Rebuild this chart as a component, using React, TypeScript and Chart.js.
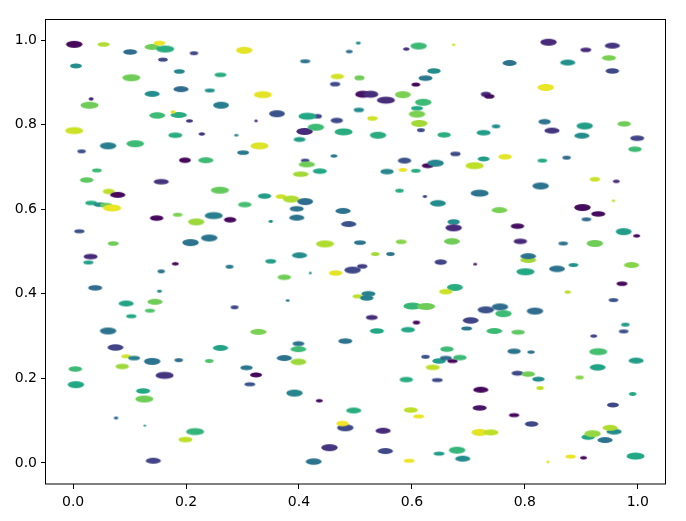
import React, { useEffect, useRef } from "react";
import { Chart, registerables } from "chart.js";

Chart.register(...registerables);

// Ellipse centres (data units)
const xValues: number[] = [
  0.002, 0.054, 0.101, 0.140, 0.153, 0.163, 0.214, 0.005, 0.159, 0.188, 0.103, 0.191, 0.140, 0.032, 0.029, 0.149, 0.187, 0.177, 0.206, 0.002, 0.181, 0.228, 0.062, 0.110, 0.015, 0.198, 0.235, 0.042,
  0.024, 0.156, 0.063, 0.079, 0.032, 0.047, 0.058, 0.069, 0.148, 0.185, 0.218, 0.011, 0.208, 0.071, 0.031, 0.027, 0.181, 0.156, 0.039, 0.153, 0.094, 0.145, 0.136, 0.103, 0.062,
  0.075, 0.094, 0.108, 0.140, 0.187, 0.241, 0.004, 0.087, 0.162, 0.005, 0.124, 0.126, 0.076, 0.127, 0.216, 0.199, 0.142,
  0.303, 0.505, 0.489, 0.411, 0.261, 0.468, 0.507, 0.464, 0.242, 0.336, 0.262, 0.506, 0.361, 0.433, 0.415, 0.467, 0.324, 0.410, 0.430, 0.479, 0.289, 0.401, 0.330, 0.301, 0.462, 0.411, 0.414, 0.437, 0.403,
  0.260, 0.339, 0.368, 0.386, 0.411, 0.304, 0.396, 0.478, 0.249, 0.278, 0.350, 0.396, 0.488, 0.241, 0.446, 0.508, 0.401, 0.350, 0.277, 0.420, 0.465, 0.495, 0.374, 0.380, 0.286,
  0.328, 0.261, 0.399, 0.399, 0.482, 0.374, 0.399, 0.307, 0.324, 0.313, 0.392, 0.436, 0.497, 0.482, 0.477, 0.454, 0.426,
  0.612, 0.590, 0.674, 0.773, 0.639, 0.624, 0.607, 0.513, 0.527, 0.554, 0.584, 0.620, 0.609, 0.609, 0.613, 0.616, 0.731, 0.737, 0.530, 0.540, 0.657, 0.749, 0.727, 0.677, 0.587, 0.711, 0.727, 0.765, 0.628, 0.642, 0.556, 0.584, 0.607,
  0.578, 0.623, 0.720, 0.646, 0.755, 0.674, 0.674, 0.787, 0.671, 0.581, 0.535, 0.562, 0.651, 0.712, 0.512, 0.792, 0.676, 0.660, 0.504, 0.523, 0.520, 0.601, 0.625, 0.731, 0.756, 0.762, 0.529, 0.608, 0.704, 0.538, 0.593, 0.697, 0.746,
  0.781, 0.662, 0.624, 0.648, 0.660, 0.672, 0.685, 0.637, 0.590, 0.645, 0.787, 0.806, 0.824, 0.722, 0.598, 0.612, 0.720, 0.781, 0.549, 0.720, 0.740, 0.553, 0.648, 0.680, 0.690, 0.595,
  0.842, 0.908, 0.955, 0.949, 0.876, 0.955, 0.837, 0.835, 0.848, 0.906, 0.901, 0.976, 0.999, 0.995, 0.831, 0.874,
  0.924, 0.962, 0.828, 0.957, 0.902, 0.930, 0.909, 0.975, 0.998, 0.868, 0.924, 0.806, 0.806, 0.801, 0.857, 0.886, 0.989, 0.972, 0.876, 0.957, 0.818, 0.978, 0.975, 0.788,
  0.922, 0.811, 0.930, 0.997, 0.929, 0.827, 0.897, 0.991, 0.956, 0.812, 0.958, 0.951, 0.912, 0.920, 0.942, 0.996, 0.881, 0.904, 0.841,
];

const yValues: number[] = [
  0.990, 0.990, 0.972, 0.984, 0.993, 0.979, 0.969, 0.939, 0.954, 0.926, 0.911, 0.884, 0.873, 0.861, 0.846, 0.822, 0.823, 0.830, 0.809, 0.786, 0.775, 0.778, 0.750, 0.755, 0.737, 0.716, 0.716, 0.692,
  0.669, 0.665, 0.642, 0.634, 0.615, 0.611, 0.610, 0.603, 0.579, 0.587, 0.570, 0.548, 0.521, 0.519, 0.488, 0.474, 0.471, 0.453, 0.414, 0.406, 0.377, 0.381, 0.360, 0.347, 0.312,
  0.273, 0.252, 0.248, 0.240, 0.243, 0.241, 0.222, 0.228, 0.207, 0.185, 0.170, 0.151, 0.106, 0.088, 0.074, 0.055, 0.005,
  0.976, 0.993, 0.973, 0.950, 0.918, 0.914, 0.911, 0.896, 0.881, 0.871, 0.846, 0.835, 0.826, 0.820, 0.820, 0.810, 0.809, 0.784, 0.794, 0.783, 0.775, 0.765, 0.750, 0.734, 0.726, 0.715, 0.706, 0.690, 0.683,
  0.645, 0.631, 0.630, 0.624, 0.618, 0.611, 0.601, 0.596, 0.585, 0.575, 0.571, 0.580, 0.565, 0.532, 0.518, 0.521, 0.491, 0.477, 0.464, 0.449, 0.449, 0.456, 0.439, 0.384, 0.368,
  0.310, 0.272, 0.282, 0.269, 0.288, 0.248, 0.239, 0.225, 0.208, 0.186, 0.165, 0.147, 0.124, 0.083, 0.093, 0.036, 0.003,
  0.986, 0.979, 0.989, 0.946, 0.927, 0.910, 0.895, 0.872, 0.872, 0.858, 0.871, 0.853, 0.839, 0.825, 0.803, 0.787, 0.872, 0.867, 0.815, 0.775, 0.776, 0.796, 0.781, 0.731, 0.715, 0.703, 0.719, 0.724, 0.703, 0.709, 0.689, 0.693, 0.691,
  0.644, 0.630, 0.638, 0.614, 0.598, 0.570, 0.556, 0.560, 0.524, 0.523, 0.494, 0.494, 0.475, 0.470, 0.465, 0.524, 0.415, 0.405, 0.394, 0.400, 0.390, 0.371, 0.370, 0.362, 0.369, 0.353, 0.344, 0.332, 0.337, 0.312, 0.315, 0.318, 0.312,
  0.264, 0.269, 0.251, 0.241, 0.248, 0.241, 0.249, 0.226, 0.197, 0.196, 0.212, 0.210, 0.198, 0.173, 0.125, 0.110, 0.130, 0.113, 0.076, 0.072, 0.072, 0.028, 0.022, 0.030, 0.010, 0.005,
  0.995, 0.977, 0.987, 0.958, 0.947, 0.927, 0.888, 0.807, 0.786, 0.797, 0.774, 0.802, 0.768, 0.742, 0.715, 0.722,
  0.671, 0.666, 0.655, 0.620, 0.604, 0.589, 0.576, 0.547, 0.537, 0.519, 0.519, 0.480, 0.489, 0.452, 0.459, 0.468, 0.468, 0.424, 0.404, 0.385, 0.359, 0.327, 0.311, 0.309,
  0.300, 0.262, 0.263, 0.242, 0.226, 0.177, 0.202, 0.163, 0.137, 0.092, 0.074, 0.083, 0.061, 0.069, 0.054, 0.016, 0.015, 0.012, 0.002,
];

// Ellipse widths (x data units)
const widths: number[] = [
  0.029, 0.021, 0.025, 0.027, 0.021, 0.032, 0.015, 0.021, 0.017, 0.019, 0.032, 0.027, 0.027, 0.009, 0.032, 0.028, 0.029, 0.009, 0.012, 0.032, 0.025, 0.011, 0.029, 0.031, 0.015, 0.021, 0.027, 0.017,
  0.024, 0.027, 0.021, 0.027, 0.021, 0.021, 0.021, 0.032, 0.024, 0.017, 0.029, 0.018, 0.029, 0.019, 0.025, 0.018, 0.012, 0.013, 0.025, 0.009, 0.027, 0.027, 0.018, 0.018, 0.029,
  0.028, 0.017, 0.021, 0.029, 0.015, 0.015, 0.024, 0.024, 0.032, 0.029, 0.025, 0.032, 0.008, 0.005, 0.032, 0.025, 0.027,
  0.029, 0.009, 0.012, 0.018, 0.021, 0.024, 0.018, 0.018, 0.018, 0.032, 0.028, 0.018, 0.028, 0.015, 0.032, 0.022, 0.006, 0.029, 0.029, 0.032, 0.008, 0.021, 0.032, 0.021, 0.012, 0.015, 0.029, 0.025, 0.028,
  0.032, 0.024, 0.018, 0.029, 0.028, 0.024, 0.025, 0.027, 0.032, 0.022, 0.008, 0.027, 0.027, 0.029, 0.032, 0.021, 0.027, 0.019, 0.014, 0.005, 0.024, 0.029, 0.024, 0.007, 0.014,
  0.029, 0.027, 0.021, 0.028, 0.025, 0.027, 0.028, 0.022, 0.021, 0.019, 0.029, 0.012, 0.027, 0.029, 0.022, 0.029, 0.028,
  0.029, 0.011, 0.006, 0.025, 0.024, 0.025, 0.015, 0.027, 0.027, 0.032, 0.028, 0.029, 0.021, 0.029, 0.029, 0.014, 0.018, 0.018, 0.018, 0.029, 0.024, 0.015, 0.025, 0.018, 0.024, 0.032, 0.021, 0.024, 0.021, 0.029, 0.024, 0.015, 0.017,
  0.015, 0.008, 0.032, 0.028, 0.028, 0.022, 0.029, 0.024, 0.028, 0.019, 0.015, 0.015, 0.022, 0.007, 0.018, 0.024, 0.028, 0.024, 0.018, 0.025, 0.024, 0.032, 0.032, 0.029, 0.029, 0.029, 0.021, 0.013, 0.028, 0.025, 0.025, 0.019, 0.028,
  0.024, 0.024, 0.015, 0.024, 0.021, 0.018, 0.024, 0.025, 0.024, 0.019, 0.021, 0.024, 0.022, 0.027, 0.025, 0.019, 0.025, 0.018, 0.027, 0.029, 0.027, 0.027, 0.019, 0.029, 0.027, 0.019,
  0.029, 0.019, 0.027, 0.025, 0.027, 0.024, 0.029, 0.022, 0.027, 0.029, 0.027, 0.024, 0.025, 0.024, 0.017, 0.015,
  0.018, 0.012, 0.029, 0.006, 0.029, 0.025, 0.017, 0.028, 0.012, 0.017, 0.029, 0.028, 0.028, 0.032, 0.028, 0.017, 0.027, 0.019, 0.011, 0.017, 0.029, 0.015, 0.017, 0.024,
  0.012, 0.013, 0.032, 0.027, 0.028, 0.013, 0.015, 0.013, 0.021, 0.024, 0.027, 0.027, 0.024, 0.029, 0.027, 0.032, 0.018, 0.012, 0.006,
];

// Ellipse heights (y data units)
const heights: number[] = [
  0.016, 0.011, 0.013, 0.014, 0.012, 0.016, 0.009, 0.012, 0.010, 0.011, 0.016, 0.014, 0.014, 0.008, 0.016, 0.015, 0.014, 0.008, 0.008, 0.017, 0.013, 0.008, 0.016, 0.016, 0.009, 0.013, 0.014, 0.010,
  0.013, 0.013, 0.013, 0.014, 0.011, 0.011, 0.011, 0.017, 0.013, 0.009, 0.016, 0.010, 0.016, 0.011, 0.013, 0.009, 0.008, 0.009, 0.013, 0.007, 0.014, 0.014, 0.009, 0.010, 0.016,
  0.015, 0.009, 0.011, 0.016, 0.009, 0.009, 0.013, 0.013, 0.017, 0.016, 0.013, 0.016, 0.007, 0.005, 0.017, 0.013, 0.014,
  0.016, 0.007, 0.008, 0.009, 0.011, 0.013, 0.012, 0.011, 0.009, 0.017, 0.016, 0.011, 0.016, 0.011, 0.017, 0.013, 0.006, 0.016, 0.016, 0.017, 0.006, 0.012, 0.017, 0.011, 0.008, 0.009, 0.014, 0.013, 0.013,
  0.016, 0.013, 0.011, 0.016, 0.016, 0.013, 0.013, 0.014, 0.017, 0.013, 0.007, 0.014, 0.014, 0.016, 0.016, 0.011, 0.014, 0.011, 0.009, 0.006, 0.013, 0.016, 0.013, 0.006, 0.009,
  0.014, 0.014, 0.012, 0.014, 0.013, 0.014, 0.015, 0.012, 0.012, 0.010, 0.016, 0.008, 0.014, 0.016, 0.013, 0.016, 0.015,
  0.016, 0.008, 0.006, 0.014, 0.013, 0.013, 0.010, 0.017, 0.017, 0.017, 0.016, 0.016, 0.011, 0.016, 0.016, 0.009, 0.012, 0.011, 0.011, 0.016, 0.013, 0.009, 0.013, 0.011, 0.014, 0.017, 0.012, 0.013, 0.012, 0.016, 0.013, 0.009, 0.009,
  0.009, 0.007, 0.017, 0.015, 0.014, 0.013, 0.016, 0.013, 0.015, 0.011, 0.009, 0.009, 0.013, 0.006, 0.011, 0.013, 0.016, 0.013, 0.010, 0.013, 0.013, 0.017, 0.016, 0.016, 0.016, 0.016, 0.012, 0.009, 0.015, 0.013, 0.013, 0.010, 0.014,
  0.013, 0.013, 0.009, 0.013, 0.011, 0.010, 0.013, 0.013, 0.013, 0.010, 0.012, 0.013, 0.012, 0.014, 0.013, 0.010, 0.013, 0.010, 0.014, 0.016, 0.014, 0.014, 0.010, 0.016, 0.014, 0.010,
  0.016, 0.011, 0.014, 0.013, 0.014, 0.013, 0.016, 0.013, 0.014, 0.016, 0.014, 0.013, 0.013, 0.013, 0.009, 0.009,
  0.011, 0.008, 0.016, 0.006, 0.016, 0.013, 0.009, 0.016, 0.008, 0.009, 0.016, 0.014, 0.014, 0.016, 0.015, 0.009, 0.014, 0.011, 0.008, 0.009, 0.016, 0.009, 0.009, 0.012,
  0.008, 0.008, 0.017, 0.014, 0.015, 0.009, 0.009, 0.009, 0.012, 0.013, 0.014, 0.014, 0.013, 0.016, 0.014, 0.017, 0.010, 0.008, 0.006,
];

// Colour values (0..1, mapped through viridis)
const colorValues: number[] = [
  0.02, 0.88, 0.35, 0.78, 0.97, 0.62, 0.22, 0.48, 0.22, 0.45, 0.78, 0.35, 0.48, 0.12, 0.78, 0.68, 0.62, 0.95, 0.15, 0.92, 0.62, 0.15, 0.42, 0.68, 0.25, 0.02, 0.68, 0.68,
  0.75, 0.15, 0.9, 0.02, 0.62, 0.48, 0.78, 0.97, 0.02, 0.8, 0.85, 0.25, 0.38, 0.78, 0.12, 0.55, 0.02, 0.38, 0.35, 0.45, 0.58, 0.78, 0.72, 0.6, 0.38,
  0.2, 0.93, 0.42, 0.38, 0.35, 0.72, 0.68, 0.85, 0.15, 0.6, 0.6, 0.78, 0.35, 0.5, 0.65, 0.9, 0.2,
  0.96, 0.48, 0.35, 0.38, 0.62, 0.93, 0.78, 0.22, 0.5, 0.96, 0.42, 0.48, 0.26, 0.22, 0.6, 0.22, 0.1, 0.12, 0.68, 0.62, 0.45, 0.55, 0.95, 0.4, 0.4, 0.22, 0.78, 0.6, 0.86,
  0.76, 0.55, 0.93, 0.88, 0.35, 0.7, 0.38, 0.38, 0.43, 0.02, 0.5, 0.38, 0.25, 0.38, 0.88, 0.38, 0.48, 0.55, 0.4, 0.5, 0.96, 0.22, 0.78, 0.4, 0.22,
  0.8, 0.58, 0.38, 0.68, 0.38, 0.38, 0.85, 0.4, 0.02, 0.25, 0.45, 0.02, 0.62, 0.22, 0.98, 0.15, 0.38,
  0.68, 0.15, 0.93, 0.38, 0.48, 0.4, 0.02, 0.05, 0.13, 0.13, 0.8, 0.68, 0.6, 0.8, 0.86, 0.22, 0.12, 0.03, 0.93, 0.62, 0.63, 0.48, 0.55, 0.22, 0.25, 0.9, 0.55, 0.96, 0.02, 0.45, 0.45, 0.97, 0.62,
  0.62, 0.22, 0.38, 0.48, 0.8, 0.48, 0.12, 0.04, 0.78, 0.82, 0.86, 0.38, 0.2, 0.05, 0.18, 0.12, 0.62, 0.92, 0.9, 0.43, 0.43, 0.66, 0.78, 0.25, 0.35, 0.68, 0.13, 0.02, 0.2, 0.6, 0.6, 0.38, 0.68,
  0.38, 0.68, 0.25, 0.55, 0.35, 0.02, 0.68, 0.9, 0.62, 0.22, 0.22, 0.78, 0.48, 0.02, 0.9, 0.97, 0.06, 0.02, 0.12, 0.96, 0.9, 0.22, 0.55, 0.66, 0.48, 0.97,
  0.12, 0.12, 0.15, 0.8, 0.5, 0.22, 0.97, 0.38, 0.15, 0.55, 0.48, 0.78, 0.2, 0.68, 0.6, 0.35,
  0.92, 0.12, 0.38, 0.9, 0.03, 0.03, 0.35, 0.55, 0.02, 0.38, 0.78, 0.86, 0.38, 0.6, 0.38, 0.5, 0.82, 0.02, 0.9, 0.25, 0.35, 0.55, 0.25, 0.75,
  0.2, 0.38, 0.7, 0.55, 0.58, 0.9, 0.82, 0.6, 0.22, 0.22, 0.48, 0.88, 0.58, 0.84, 0.38, 0.6, 0.97, 0.02, 0.95,
];

const tickValues: number[] = [0, 0.2, 0.4, 0.6, 0.8, 1.0];
const xLimits: number[] = [-0.048, 1.05];
const yLimits: number[] = [-0.05, 1.05];

const VIRIDIS: string[] = [
  "#440154", "#482475", "#414487", "#355f8d", "#2a788e", "#21918c",
  "#22a884", "#44bf70", "#7ad151", "#bddf26", "#fde725",
];

function hexToRgb(h: string): number[] {
  return [parseInt(h.slice(1, 3), 16), parseInt(h.slice(3, 5), 16), parseInt(h.slice(5, 7), 16)];
}

function viridis(t: number): string {
  const v = Math.max(0, Math.min(1, t)) * (VIRIDIS.length - 1);
  const i = Math.min(Math.floor(v), VIRIDIS.length - 2);
  const f = v - i;
  const a = hexToRgb(VIRIDIS[i]);
  const b = hexToRgb(VIRIDIS[i + 1]);
  const c = a.map((av, k) => Math.round(av + (b[k] - av) * f));
  return `rgb(${c[0]},${c[1]},${c[2]})`;
}

const framePlugin = {
  id: "frame",
  afterDraw(chart: any) {
    const { ctx, chartArea } = chart;
    const { left, top, right, bottom } = chartArea;
    ctx.save();
    ctx.strokeStyle = "#000";
    ctx.lineWidth = 1;
    ctx.strokeRect(Math.round(left) - 0.5, Math.round(top) + 0.5, Math.round(right - left), Math.round(bottom - top) - 0.5);
    ctx.restore();
  },
};

export default function App() {
  const ref = useRef<HTMLCanvasElement>(null);

  useEffect(() => {
    document.body.style.margin = "0";
    const n = Math.min(xValues.length, yValues.length, widths.length, heights.length, colorValues.length);
    const points = [];
    for (let i = 0; i < n; i++) points.push({ x: xValues[i], y: yValues[i] });

    const sprites = new Map<string, HTMLCanvasElement>();
    const sprite = (i: number, pw: number, ph: number) => {
      const key = `${i}:${pw.toFixed(2)}:${ph.toFixed(2)}`;
      let c = sprites.get(key);
      if (!c) {
        c = document.createElement("canvas");
        c.width = Math.ceil(pw) + 2;
        c.height = Math.ceil(ph) + 2;
        const g = c.getContext("2d")!;
        g.fillStyle = viridis(colorValues[i]);
        g.beginPath();
        g.ellipse(c.width / 2, c.height / 2, pw / 2, ph / 2, 0, 0, Math.PI * 2);
        g.fill();
        sprites.set(key, c);
      }
      return c;
    };

    const tickFont = { family: "DejaVu Sans", size: 14 };

    const chart = new Chart(ref.current!, {
      type: "scatter",
      data: {
        datasets: [
          {
            data: points,
            pointRadius: 3,
            borderWidth: 0,
            pointStyle: (ctx: any) => {
              if (ctx.type !== "data") return "circle";
              const i = ctx.dataIndex;
              const xs = ctx.chart.scales.x;
              const ys = ctx.chart.scales.y;
              const pw = Math.abs(xs.getPixelForValue(xValues[i] + widths[i] / 2) - xs.getPixelForValue(xValues[i] - widths[i] / 2));
              const ph = Math.abs(ys.getPixelForValue(yValues[i] + heights[i] / 2) - ys.getPixelForValue(yValues[i] - heights[i] / 2));
              if (!isFinite(pw) || !isFinite(ph) || pw <= 0 || ph <= 0) return "circle";
              return sprite(i, pw, ph);
            },
          } as any,
        ],
      },
      options: {
        animation: false,
        responsive: true,
        maintainAspectRatio: false,
        events: [],
        layout: { padding: { top: 19, right: 20, left: 0, bottom: 0 } },
        plugins: { legend: { display: false }, tooltip: { enabled: false } },
        scales: {
          x: {
            type: "linear",
            min: xLimits[0],
            max: xLimits[1],
            afterBuildTicks: (scale: any) => {
              scale.ticks = tickValues.map((v) => ({ value: v }));
            },
            afterFit: (scale: any) => {
              scale.height = 37;
            },
            grid: { display: true, drawOnChartArea: false, drawTicks: true, tickLength: 5, color: "#000", lineWidth: 1 },
            border: { display: false },
            ticks: {
              color: "#000",
              font: tickFont,
              padding: 5,
              maxRotation: 0,
              autoSkip: false,
              callback: (v: any) => Number(v).toFixed(1),
            },
          },
          y: {
            type: "linear",
            min: yLimits[0],
            max: yLimits[1],
            afterBuildTicks: (scale: any) => {
              scale.ticks = tickValues.map((v) => ({ value: v }));
            },
            afterFit: (scale: any) => {
              scale.width = 46;
            },
            grid: { display: true, drawOnChartArea: false, drawTicks: true, tickLength: 5, color: "#000", lineWidth: 1 },
            border: { display: false },
            ticks: {
              color: "#000",
              font: tickFont,
              padding: 4,
              autoSkip: false,
              callback: (v: any) => Number(v).toFixed(1),
            },
          },
        },
      },
      plugins: [framePlugin],
    });
    return () => chart.destroy();
  }, []);

  return (
    <div style={{ width: 686, height: 521, position: "relative" }}>
      <canvas ref={ref} />
    </div>
  );
}
